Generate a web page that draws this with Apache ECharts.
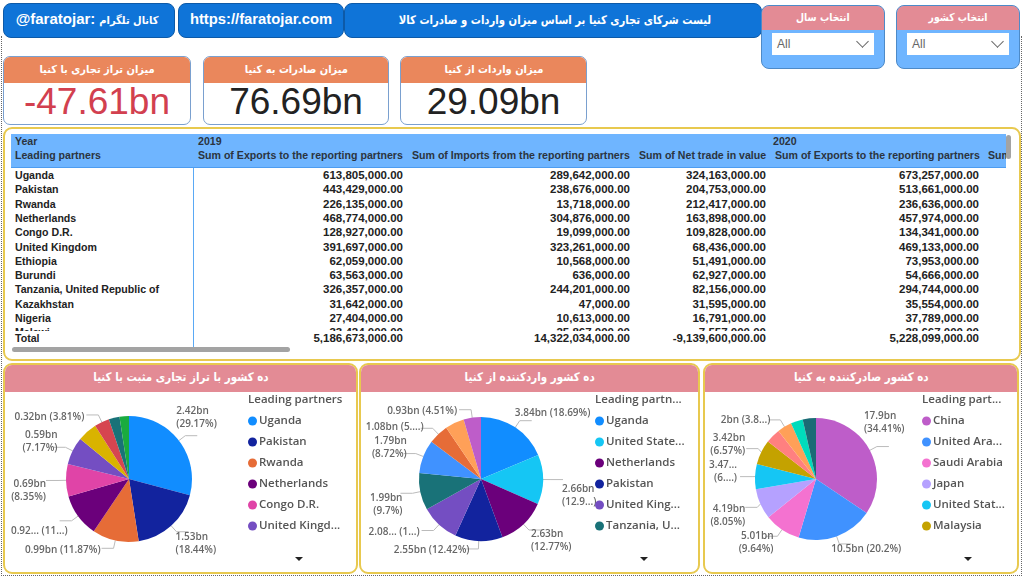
<!DOCTYPE html>
<html>
<head>
<meta charset="utf-8">
<title>Kenya trade partners</title>
<script src="https://cdn.jsdelivr.net/npm/echarts@6/dist/echarts.min.js"></script>
<style>
    html, body { margin: 0; padding: 0; background: #fff; }
    body { width: 1024px; height: 580px; position: relative; overflow: hidden; font-family: "Liberation Sans", "DejaVu Sans", sans-serif; }
    .box { position: absolute; box-sizing: border-box; }
    .frame { left: 1px; top: 36px; width: 1021px; height: 540px; border: 1px dotted #666; border-top: 0; }
    .btn { top: 3px; height: 35px; background: #0f74d8; border: 1px solid #0d5aa8; border-radius: 8px; color: #fff; font-weight: bold; text-align: center; line-height: 30px; }
    .fa { font-family: "DejaVu Sans", sans-serif; font-weight: bold; }
    .sx { display: inline-block; }
    .slicer { top: 5px; width: 124px; height: 64px; background: #6fb5ff; border: 1px solid #4d8ac8; border-radius: 8px; overflow: hidden; }
    .slicer .head { height: 24px; background: #e38b95; color: #fff; font-size: 11px; text-align: center; line-height: 23px; }
    .slicer .drop { position: absolute; left: 10px; top: 27px; width: 102px; height: 22px; background: #fff; color: #666; font-size: 12px; line-height: 22px; padding-left: 5px; box-sizing: border-box; }
    .slicer .arrow { position: absolute; right: 7px; top: 4px; width: 8px; height: 8px; border-right: 1px solid #666; border-bottom: 1px solid #666; transform: rotate(45deg); }
    .kpi { top: 56px; height: 69px; border: 1px solid #7aa0cf; border-radius: 7px; overflow: hidden; text-align: center; }
    .kpi .head { height: 26px; background: #ea875c; color: #fff; font-size: 11px; line-height: 25px; }
    .kpi .val { font-size: 37px; line-height: 37px; color: #222; }
    .panel { border: 2px solid #e8c94f; border-radius: 9px; background: #fff; overflow: hidden; }
    .panel .head { height: 27px; background: #e38b95; color: #fff; font-size: 12px; text-align: center; line-height: 24px; }
    #tbl { left: 3px; top: 127px; width: 1018px; height: 234px; }
    .thead { position: absolute; left: 6px; top: 5px; width: 995px; height: 34px; background: #6fb5ff; border-bottom: 1px solid #4d9cf0; box-sizing: border-box; overflow: hidden; }
    .cell { position: absolute; white-space: nowrap; font-size: 10.6px; color: #222; font-weight: bold; line-height: 14px; }
    .cell.num { font-size: 11.5px; }
    .thead .cell { color: #2b3440; }
    .rows { position: absolute; left: 6px; top: 39px; width: 995px; height: 163px; overflow: hidden; }
    .vline { position: absolute; left: 188px; top: 39px; width: 1px; height: 182px; background: #5aa9f5; }
    .hbar { position: absolute; left: 7px; top: 218px; width: 278px; height: 5px; background: #a3a3a3; border-radius: 3px; }
    .vbar { position: absolute; left: 1001px; top: 6px; width: 5px; height: 24px; background: #a3a3a3; border-radius: 3px; }
    .pie { position: absolute; top: 392px; height: 179px; }
</style>
</head>
<body>
<div class="box frame"></div>

<div class="box btn" style="left:3px;width:172px;font-size:15px;">@faratojar: <span class="fa sx" style="font-size:11px;transform:scaleX(.9);margin-left:-3px;">کانال تلگرام</span></div>
<div class="box btn" style="left:178px;width:166px;font-size:14.8px;">https://faratojar.com</div>
<div class="box btn" style="left:344px;width:418px;padding-left:3px;"><span class="fa sx" style="font-size:12px;transform:scaleX(.84);white-space:nowrap;">لیست شرکای تجاری کنیا بر اساس میزان واردات و صادرات کالا</span></div>

<div class="box slicer" style="left:761px;"><div class="head"><span class="fa sx" style="transform:scaleX(.84);">انتخاب سال</span></div><div class="drop">All<div class="arrow"></div></div></div>
<div class="box slicer" style="left:896px;"><div class="head"><span class="fa sx" style="transform:scaleX(.84);">انتخاب کشور</span></div><div class="drop">All<div class="arrow"></div></div></div>

<div class="box kpi" style="left:3px;width:188px;"><div class="head"><span class="fa sx" style="transform:scaleX(.9);">میزان تراز تجاری با کنیا</span></div><div class="val" style="color:#d2404f;">-47.61bn</div></div>
<div class="box kpi" style="left:203px;width:186px;"><div class="head"><span class="fa sx" style="transform:scaleX(.9);">میزان صادرات به کنیا</span></div><div class="val">76.69bn</div></div>
<div class="box kpi" style="left:400px;width:187px;"><div class="head"><span class="fa sx" style="transform:scaleX(.9);">میزان واردات از کنیا</span></div><div class="val">29.09bn</div></div>

<div class="box panel" id="tbl">
    <div class="thead" id="thead"></div>
    <div class="rows" id="rows"></div>
    <div class="cell" id="totals" style="left:0;top:0;"></div>
    <div class="vline"></div>
    <div class="hbar"></div>
    <div class="vbar"></div>
</div>

<div class="box panel" style="left:3px;top:363px;width:355px;height:211px;"><div class="head"><span class="fa sx" style="transform:scaleX(.86);">ده کشور با تراز تجاری مثبت با کنیا</span></div></div>
<div class="box panel" style="left:359px;top:363px;width:341px;height:211px;"><div class="head"><span class="fa sx" style="transform:scaleX(.86);">ده کشور واردکننده از کنیا</span></div></div>
<div class="box panel" style="left:703px;top:363px;width:316px;height:211px;"><div class="head"><span class="fa sx" style="transform:scaleX(.86);">ده کشور صادرکننده به کنیا</span></div></div>

<div class="pie" id="pie-balance" style="left:5px;width:351px;"></div>
<div class="pie" id="pie-import" style="left:361px;width:337px;"></div>
<div class="pie" id="pie-export" style="left:705px;width:312px;"></div>

<script>
    // table
    var partners = ['Uganda', 'Pakistan', 'Rwanda', 'Netherlands', 'Congo D.R.', 'United Kingdom', 'Ethiopia', 'Burundi', 'Tanzania, United Republic of', 'Kazakhstan', 'Nigeria', 'Malawi'];
    var exports2019 = ['613,805,000.00', '443,429,000.00', '226,135,000.00', '468,774,000.00', '128,927,000.00', '391,697,000.00', '62,059,000.00', '63,563,000.00', '326,357,000.00', '31,642,000.00', '27,404,000.00', '33,424,000.00'];
    var imports2019 = ['289,642,000.00', '238,676,000.00', '13,718,000.00', '304,876,000.00', '19,099,000.00', '323,261,000.00', '10,568,000.00', '636,000.00', '244,201,000.00', '47,000.00', '10,613,000.00', '25,867,000.00'];
    var net2019 = ['324,163,000.00', '204,753,000.00', '212,417,000.00', '163,898,000.00', '109,828,000.00', '68,436,000.00', '51,491,000.00', '62,927,000.00', '82,156,000.00', '31,595,000.00', '16,791,000.00', '7,557,000.00'];
    var exports2020 = ['673,257,000.00', '513,661,000.00', '236,636,000.00', '457,974,000.00', '134,341,000.00', '469,133,000.00', '73,953,000.00', '54,666,000.00', '294,744,000.00', '35,554,000.00', '37,789,000.00', '38,667,000.00'];
    var totals = ['Total', '5,186,673,000.00', '14,322,034,000.00', '-9,139,600,000.00', '5,228,099,000.00'];

    // pie: positive balance
    var balanceNames = ['Uganda', 'Pakistan', 'Rwanda', 'Netherlands', 'Congo D.R.', 'United Kingdom', 'Ethiopia', 'Burundi', 'Tanzania, United Republic of', 'Kazakhstan'];
    var balanceValues = [2.42, 1.53, 0.99, 0.92, 0.69, 0.59, 0.42, 0.32, 0.23, 0.2];
    var balanceLabels = ['2.42bn\n(29.17%)', '1.53bn\n(18.44%)', '0.99bn (11.87%)', '0.92... (11...)', '0.69bn\n(8.35%)', '0.59bn\n(7.17%)', '', '0.32bn (3.81%)', '', ''];
    var balanceLegend = ['Uganda', 'Pakistan', 'Rwanda', 'Netherlands', 'Congo D.R.', 'United Kingd...'];
    var balanceColors = ['#118DFF', '#12239E', '#E66C37', '#6B007B', '#E044A7', '#744EC2', '#D9B300', '#D64550', '#197278', '#1AAB40'];

    // pie: importers
    var importNames = ['Uganda', 'United States', 'Netherlands', 'Pakistan', 'United Kingdom', 'Tanzania, United Republic of', 'Partner 7', 'Partner 8', 'Partner 9', 'Partner 10'];
    var importValues = [3.84, 2.66, 2.63, 2.55, 2.08, 1.99, 1.79, 1.08, 1.02, 0.93];
    var importLabels = ['3.84bn (18.69%)', '2.66bn\n(12.9...)', '2.63bn\n(12.77%)', '2.55bn (12.42%)', '2.08... (1...)', '1.99bn\n(9.7%)', '1.79bn\n(8.72%)', '1.08bn (5....)', '', '0.93bn (4.51%)'];
    var importLegend = ['Uganda', 'United State...', 'Netherlands', 'Pakistan', 'United King...', 'Tanzania, U...'];
    var importColors = ['#118DFF', '#15C6F4', '#6B007B', '#12239E', '#744EC2', '#197278', '#4092FF', '#E66C37', '#FFA058', '#BE5DC9'];

    // pie: exporters
    var exportNames = ['China', 'United Arab Emirates', 'Saudi Arabia', 'Japan', 'United States', 'Malaysia', 'Partner 7', 'Partner 8', 'Partner 9', 'Partner 10'];
    var exportValues = [17.9, 10.5, 5.01, 4.19, 3.47, 3.42, 2.03, 2, 1.67, 1.82];
    var exportLabels = ['17.9bn\n(34.41%)', '10.5bn (20.2%)', '5.01bn\n(9.64%)', '4.19bn\n(8.05%)', '3.47...\n(6....)', '3.42bn\n(6.57%)', '', '2bn (3.8...)', '', ''];
    var exportLegend = ['China', 'United Ara...', 'Saudi Arabia', 'Japan', 'United Stat...', 'Malaysia'];
    var exportColors = ['#BE5DC9', '#4092FF', '#F472D0', '#B5A1FF', '#15C6F4', '#C4A200', '#FF8080', '#FFA058', '#00DBBC', '#1B6B75'];

    // 标签微调
    var balanceNudge = [[-26, -18], [-18, 12], [4, 2], [13, 10], [5, 10], [9, -6], [0, 0], [3, 2], [0, 0], [0, 0]];
    var importNudge = [[-22, -8], [-6, 16], [-15, 11], [8, 1], [3, 2], [7, 11], [8, -6], [8, -1], [0, 0], [3, 1]];
    var exportNudge = [[-30, -24], [-25, 5], [13, 6], [5, 8], [2, -5], [4, -4], [0, 0], [7, 0], [0, 0], [0, 0]];

    var colRight = [392, 619, 755, 968];

    function cellHtml(text, top, right) {
        return '<div class="cell num" style="top:' + top + 'px;right:' + (995 - right) + 'px;">' + text + '</div>';
    }

    function fillTable() {
        var head = '<div class="cell" style="left:4px;top:0;">Year</div>' +
            '<div class="cell" style="left:187px;top:0;">2019</div>' +
            '<div class="cell" style="left:762px;top:0;">2020</div>' +
            '<div class="cell" style="left:4px;top:14px;">Leading partners</div>' +
            '<div class="cell" style="left:187px;top:14px;">Sum of Exports to the reporting partners</div>' +
            '<div class="cell" style="left:401px;top:14px;">Sum of Imports from the reporting partners</div>' +
            '<div class="cell" style="left:628px;top:14px;">Sum of Net trade in value</div>' +
            '<div class="cell" style="left:764px;top:14px;">Sum of Exports to the reporting partners</div>' +
            '<div class="cell" style="left:977px;top:14px;">Sum of Imports</div>';
        document.getElementById('thead').innerHTML = head;

        var html = '';
        for (var i = 0; i < partners.length; i++) {
            var top = i * 14.3;
            html += '<div class="cell" style="left:4px;top:' + top + 'px;">' + partners[i] + '</div>';
            html += cellHtml(exports2019[i], top, colRight[0]);
            html += cellHtml(imports2019[i], top, colRight[1]);
            html += cellHtml(net2019[i], top, colRight[2]);
            html += cellHtml(exports2020[i], top, colRight[3]);
        }
        document.getElementById('rows').innerHTML = html;

        var foot = '<div class="cell" style="left:4px;top:0;">' + totals[0] + '</div>';
        for (var j = 0; j < colRight.length; j++) {
            foot += cellHtml(totals[j + 1], 0, colRight[j]);
        }
        var el = document.getElementById('totals');
        el.style.cssText = 'left:6px;top:202px;width:995px;height:14px;';
        el.innerHTML = foot;
    }

    function setPie(ele, names, values, labels, nudge, legendText, colors, center, radius, legendLeft, titleLeft, caretLeft) {
        var chart = echarts.init(document.getElementById(ele));
        var data = [];
        for (var i = 0; i < names.length; i++) {
            data.push({
                name: names[i],
                value: values[i],
                itemStyle: {color: colors[i]},
                label: {show: labels[i] !== '', formatter: labels[i]},
                labelLine: {show: labels[i] !== ''}
            });
        }
        chart.setOption({
            animation: false,
            legend: {
                orient: 'vertical',
                left: legendLeft,
                top: 17,
                icon: 'circle',
                itemWidth: 9,
                itemHeight: 9,
                itemGap: 7,
                selectedMode: false,
                data: names.slice(0, 6),
                formatter: function (name) {
                    return legendText[names.indexOf(name)];
                },
                textStyle: {fontFamily: 'Open Sans', fontSize: 11.5, fontWeight: 600, color: '#555', padding: [0, 0, 0, -3], lineHeight: 14}
            },
            graphic: [
                {
                    type: 'text',
                    left: titleLeft,
                    top: 2,
                    style: {text: legendText.title, fontFamily: 'Open Sans', fontSize: 11.5, fontWeight: 600, fill: '#555'}
                },
                {
                    type: 'polygon',
                    left: caretLeft,
                    top: 165,
                    shape: {points: [[0, 0], [8, 0], [4, 4]]},
                    style: {fill: '#222'}
                }
            ],
            series: [{
                type: 'pie',
                center: center,
                radius: [0, radius],
                startAngle: 90,
                minShowLabelAngle: 0,
                label: {fontFamily: 'Open Sans', fontSize: 10, fontWeight: 600, color: '#666', lineHeight: 13, align: 'center', overflow: 'none'},
                labelLine: {length: 8, length2: 12, lineStyle: {color: '#bbb', width: 1}},
                labelLayout: function (params) {
                    return {dx: nudge[params.dataIndex][0], dy: nudge[params.dataIndex][1]};
                },
                emphasis: {disabled: true},
                data: data
            }]
        });
    }

    balanceLegend.title = 'Leading partners';
    importLegend.title = 'Leading partn...';
    exportLegend.title = 'Leading part...';

    fillTable();
    setPie('pie-balance', balanceNames, balanceValues, balanceLabels, balanceNudge, balanceLegend, balanceColors, [124, 87], 63, 238, 243, 290);
    setPie('pie-import', importNames, importValues, importLabels, importNudge, importLegend, importColors, [120, 87], 62, 229, 234, 279);
    setPie('pie-export', exportNames, exportValues, exportLabels, exportNudge, exportLegend, exportColors, [111, 87], 61, 212, 217, 259);
</script>
</body>
</html>
